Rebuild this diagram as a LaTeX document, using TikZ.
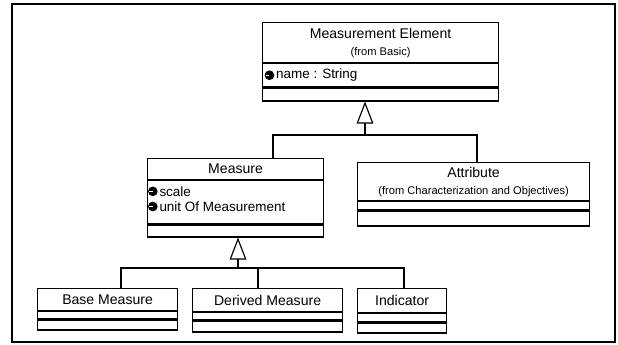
\documentclass[tikz,border=0pt]{standalone}
\usepackage{fontspec}
\setmainfont{Liberation Sans}
\usetikzlibrary{arrows.meta,positioning}

\tikzstyle{cls} = [draw, rectangle, line width=1pt, inner sep=0pt,
font=\fontsize{12}{14.5}\selectfont, align=center]
\tikzstyle{part} = [draw, rectangle, line width=1pt, inner sep=0pt]
\tikzstyle{attrtext} = [inner sep=0pt, font=\fontsize{11.5}{13}\selectfont]
\tikzstyle{priv} = [circle, fill=black, minimum size=2.9mm, inner sep=0pt,
path picture={\draw[white, line width=0.6pt] ([xshift=0.4mm]path picture bounding box.west) -- (path picture bounding box.center);}]
\tikzstyle{gen} = [-{Triangle[open, length=6.6mm, width=5mm]}, line width=1pt]
\newcommand{\fromtxt}[1]{{\fontsize{9.5}{11}\selectfont #1}}

\begin{document}
\begin{tikzpicture}[x=0.3mm, y=-0.3mm, line width=1pt]
\useasboundingbox (0,0) rectangle (618,345);

% frame
\draw[line width=1.3pt] (12,4) rectangle (615,342);

% Measurement Element
\node[cls, minimum width=70.8mm, minimum height=12mm, anchor=north west] (elem) at (262,22) {Measurement Element\\[0pt]\fromtxt{(from Basic)}};
\node[part, minimum width=70.8mm, minimum height=6.9mm, anchor=north] (elemattr) at (elem.south) {};
\node[part, minimum width=70.8mm, minimum height=3.9mm, anchor=north] (elemops) at (elemattr.south) {};
\node[priv, right=0.6mm of elemattr.west] (nameicon) {};
\node[attrtext, right=0.2mm of nameicon] (name) {name : String};

% Measure
\node[cls, minimum width=52.8mm, minimum height=6.3mm, anchor=north west] (meas) at (147,158) {Measure};
\node[part, minimum width=52.8mm, minimum height=12.9mm, anchor=north] (measattr) at (meas.south) {};
\node[part, minimum width=52.8mm, minimum height=3.6mm, anchor=north] (measops) at (measattr.south) {};
\node[priv, below right=2.2mm and 0.6mm of measattr.north west] (scaleicon) {};
\node[priv, below=1.3mm of scaleicon] (uniticon) {};
\node[attrtext, right=0.2mm of scaleicon] (scale) {scale};
\node[attrtext, right=0.2mm of uniticon] (unit) {unit Of Measurement};

% Attribute
\node[cls, minimum width=69.6mm, minimum height=11.4mm, anchor=north west] (attr) at (357,162) {Attribute\\[0pt]\fromtxt{(from Characterization and Objectives)}};
\node[part, minimum width=69.6mm, minimum height=2.4mm, anchor=north] (attrattr) at (attr.south) {};
\node[part, minimum width=69.6mm, minimum height=4.5mm, anchor=north] (attrops) at (attrattr.south) {};

% Base Measure
\node[cls, minimum width=42mm, minimum height=6.6mm, anchor=north west] (base) at (37,288) {Base Measure};
\node[part, minimum width=42mm, minimum height=2.1mm, anchor=north] (baseattr) at (base.south) {};
\node[part, minimum width=42mm, minimum height=3mm, anchor=north] (baseops) at (baseattr.south) {};

% Derived Measure
\node[cls, minimum width=45mm, minimum height=6.9mm, anchor=north west] (der) at (192,288) {Derived Measure};
\node[part, minimum width=45mm, minimum height=2.1mm, anchor=north] (derattr) at (der.south) {};
\node[part, minimum width=45mm, minimum height=3.3mm, anchor=north] (derops) at (derattr.south) {};

% Indicator
\node[cls, minimum width=26.7mm, minimum height=7.2mm, anchor=north west] (ind) at (357,288) {Indicator};
\node[part, minimum width=26.7mm, minimum height=2.4mm, anchor=north] (indattr) at (ind.south) {};
\node[part, minimum width=26.7mm, minimum height=3mm, anchor=north] (indops) at (indattr.south) {};

% generalization to Measurement Element
\coordinate (top) at (365,135);
\coordinate (topl) at (273,135);
\coordinate (topr) at (477,135);
\draw[gen] (top) -- (top |- elemops.south);
\draw (topl |- meas.north) -- (topl) -- (topr) -- (topr |- attr.north);

% generalization to Measure
\coordinate (sub) at (238,268);
\coordinate (subl) at (121,268);
\coordinate (subm) at (258,268);
\coordinate (subr) at (404,268);
\draw[gen] (sub) -- (sub |- measops.south);
\draw (subl |- base.north) -- (subl) -- (subr) -- (subr |- ind.north);
\draw (subm) -- (subm |- der.north);
\end{tikzpicture}
\end{document}
